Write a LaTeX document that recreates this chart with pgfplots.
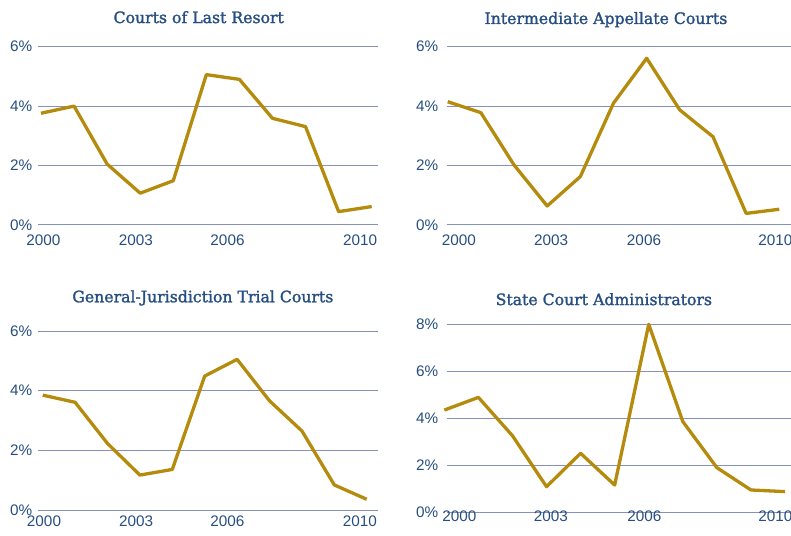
\documentclass[border=0pt]{standalone}
\usepackage{pgfplots}
\pgfplotsset{compat=1.18}
\usepackage{fontspec}
\setmainfont{Liberation Sans}
\newfontfamily\titlefont[FakeBold=1.6]{DejaVu Serif}
\definecolor{gold}{RGB}{180,139,12}
\definecolor{gridc}{RGB}{135,145,190}
\definecolor{txt}{RGB}{38,78,128}
\pgfplotsset{
  panel/.style={
    scale only axis, clip=false,
    axis line style={draw=none},
    major tick length=0pt,
    ymajorgrids, grid style={gridc, line width=1pt},
    ymin=0,
    tick label style={font=\fontsize{15.3}{18}\selectfont, text=txt},
    title style={font=\titlefont\fontsize{15.7}{18}\selectfont, text=txt, anchor=base, yshift=-5pt},
  },
  ln/.style={gold, line width=3.3pt, line join=round, mark=none},
  six/.style={ymax=6, ytick={0,2,4,6}, yticklabels={0\%,2\%,4\%,6\%}},
}
\begin{document}
\begin{tikzpicture}[x=1pt,y=1pt]
% Panel 1
\begin{axis}[panel, six, at={(38.3pt,310pt)}, anchor=south west,
  width=340pt, height=178.3pt, xmin=-0.0816, xmax=10.20,
  xtick={0.07,2.87,5.64,9.65}, xticklabels={2000,2003,2006,2010},
  yticklabel style={xshift=-2.5pt}, xticklabel style={yshift=-6.7pt},
  title={Courts of Last Resort},
  title style={at={(axis description cs:0.4718,1.127)}}]
\addplot[ln] coordinates {(0,3.76) (1,4.00) (2,2.05) (3,1.07) (4,1.49) (5,5.06) (6,4.90) (7,3.59) (8,3.31) (9,0.45) (10,0.62)};
\end{axis}
% Panel 2
\begin{axis}[panel, six, at={(446.7pt,310pt)}, anchor=south west,
  width=350pt, height=178.3pt, xmin=-0.030, xmax=10.525,
  xtick={0.34,3.12,5.92,9.885}, xticklabels={2000,2003,2006,2010},
  yticklabel style={xshift=-5pt}, xticklabel style={yshift=-6.7pt},
  title={Intermediate Appellate Courts},
  title style={at={(axis description cs:0.455,1.122)}}]
\addplot[ln] coordinates {(0,4.15) (1,3.78) (2,2.02) (3,0.64) (4,1.63) (5,4.10) (6,5.61) (7,3.87) (8,2.97) (9,0.39) (10,0.53)};
\end{axis}
% Panel 3
\begin{axis}[panel, six, at={(38.3pt,25pt)}, anchor=south west,
  width=340pt, height=179pt, xmin=-0.136, xmax=10.358,
  xtick={0.04,2.88,5.70,9.79}, xticklabels={2000,2003,2006,2010},
  yticklabel style={xshift=-2.5pt}, xticklabel style={yshift=-2pt},
  title={General-Jurisdiction Trial Courts},
  title style={at={(axis description cs:0.484,1.155)}}]
\addplot[ln] coordinates {(0,3.85) (1,3.61) (2,2.23) (3,1.17) (4,1.36) (5,4.49) (6,5.05) (7,3.66) (8,2.65) (9,0.84) (10,0.36)};
\end{axis}
% Panel 4
\begin{axis}[panel, at={(446.7pt,22.7pt)}, anchor=south west,
  width=350pt, height=188pt, xmin=0.070, xmax=10.343,
  ymax=8, ytick={0,2,4,6,8}, yticklabels={0\%,2\%,4\%,6\%,8\%},
  xtick={0.44,3.13,5.87,9.72}, xticklabels={2000,2003,2006,2010},
  yticklabel style={xshift=-5pt}, xticklabel style={yshift=5pt},
  title={State Court Administrators},
  title style={at={(axis description cs:0.449,1.097)}}]
\addplot[ln] coordinates {(0,4.35) (1,4.89) (2,3.26) (3,1.09) (4,2.51) (5,1.16) (6,8.00) (7,3.86) (8,1.90) (9,0.95) (10,0.88)};
\end{axis}
\pgfresetboundingbox
\useasboundingbox (0,0) rectangle (791,535);
\end{tikzpicture}
\end{document}
